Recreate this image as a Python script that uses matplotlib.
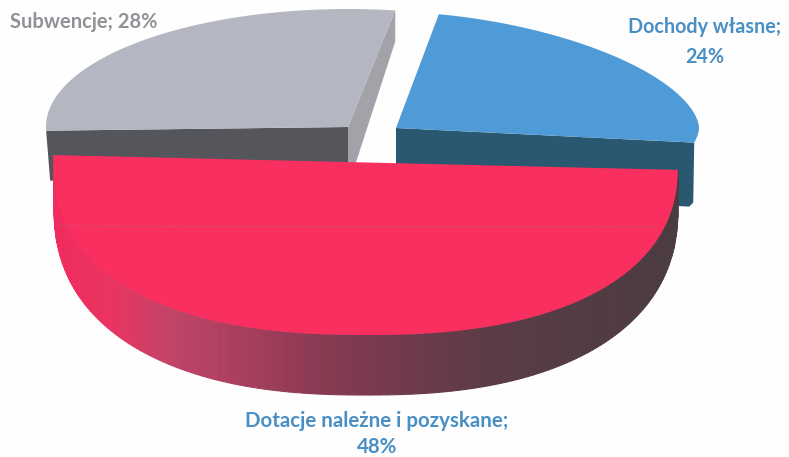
import numpy as np
import matplotlib
matplotlib.use("Agg")
import matplotlib.pyplot as plt
from matplotlib.colors import to_rgb

# Data
categories = ["Dochody własne", "Dotacje należne i pozyskane", "Subwencje"]
values = [24, 48, 28]

# Pixel-space canvas
fig = plt.figure(figsize=(7.89, 4.57), dpi=100, facecolor="#fefefe")
ax = fig.add_axes([0, 0, 1, 1])
ax.set_xlim(0, 789)
ax.set_ylim(457, 0)
ax.axis("off")


def rim(t_deg, cx, cy, a, b, p):
    t = np.radians(t_deg)
    c, s = np.cos(t), np.sin(t)
    x = cx + a * np.sign(c) * np.abs(c) ** p
    y = cy - b * np.sign(s) * np.abs(s) ** p
    return x, y


def sweep(value, start, direction=1, stretch=1.0):
    span = value / 100 * 360 * stretch
    return np.linspace(start, start + direction * span, 160)


v_blue, v_red, v_gray = values
t_blue = sweep(v_blue, -9.5, 1, 1.03)
t_gray = sweep(v_gray, 81)
t_red = sweep(v_red, -1.3, -1, 1.043)

# ---- Grey slice (back left)
gx, gy = rim(t_gray, 348, 127, 302, 118, 1.0)
apex = (348, 127)
# right cut face
ax.fill([apex[0], gx[0], gx[0], apex[0]],
        [apex[1], gy[0], gy[0] + 31, apex[1] + 60],
        color="#a2a2a8", lw=0, zorder=1)
# front cut face
ax.fill([apex[0], gx[-1], gx[-1] + 4, apex[0]],
        [apex[1], gy[-1], gy[-1] + 50, apex[1] + 50],
        color="#55565c", lw=0, zorder=1)
ax.fill(np.r_[apex[0], gx], np.r_[apex[1], gy], color="#b4b6c2", lw=0, zorder=2)

# ---- Blue slice (back right)
bx, by = rim(t_blue, 396, 128, 303, 116, 1.15)
apex_b = (396, 128)
ax.fill([apex_b[0], bx[0], bx[0] - 1, bx[0] - 5, apex_b[0]],
        [apex_b[1], by[0], by[0] + 60, by[0] + 64, apex_b[1] + 64],
        color="#2a5870", lw=0, zorder=1)
ax.fill(np.r_[apex_b[0], bx], np.r_[apex_b[1], by], color="#4f9bd8", lw=0, zorder=2)

# ---- Red slice (front)
rx, ry = rim(t_red, 366, 163, 312, 172, 0.85)
ox, oy = rim(t_red, 366, 205, 312, 190, 0.85)
stop_x = [60, 110, 170, 250, 340, 480, 680]
stop_c = np.array([to_rgb(c) for c in
                   ["#f02c5e", "#ea3460", "#c24468", "#a53e5e",
                    "#823a50", "#5c3c46", "#4a3c40"]])
for i in range(len(t_red) - 1):
    xm = (ox[i] + ox[i + 1]) / 2
    col = [np.interp(xm, stop_x, stop_c[:, k]) for k in range(3)]
    ax.fill([rx[i], rx[i + 1], ox[i + 1], ox[i]],
            [ry[i], ry[i + 1], oy[i + 1], oy[i]],
            facecolor=col, edgecolor=col, lw=0.8, zorder=3)
ax.fill(rx, ry, color="#f92f60", lw=0, zorder=4)
ax.plot([58, 653], [226, 227], color="#c85a70", lw=0.7, alpha=0.6, zorder=5)

# ---- Labels
font = ["Lato", "DejaVu Sans"]
blue_txt = "#4a8fc4"
ax.text(705, 42, f"{categories[0]};\n{v_blue}%", color=blue_txt, ha="center", va="center",
        fontsize=14.2, fontweight="bold", family=font, linespacing=1.65, zorder=6)
ax.text(377, 434, f"{categories[1]};\n{v_red}%", color=blue_txt, ha="center", va="center",
        fontsize=14.8, fontweight="bold", family=font, linespacing=1.4, zorder=6)
ax.text(84, 22, f"{categories[2]}; {v_gray}%", color="#8f9296", ha="center", va="center",
        fontsize=14.5, fontweight="bold", family=font, zorder=6)

fig.savefig("out.png", dpi=100, facecolor=fig.get_facecolor())
